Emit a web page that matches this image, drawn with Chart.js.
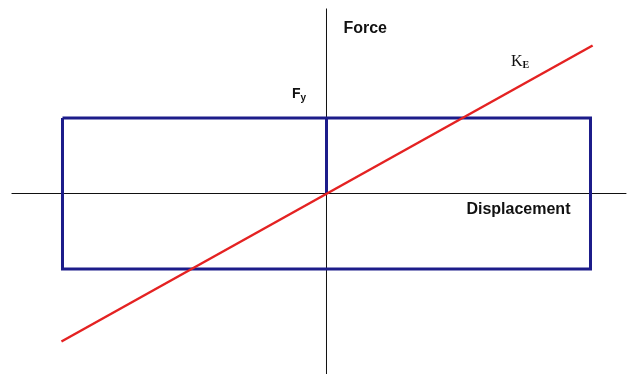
<!DOCTYPE html>
<html>
<head>
<meta charset="utf-8">
<script src="https://cdn.jsdelivr.net/npm/chart.js@4.4.1/dist/chart.umd.min.js"></script>
<style>
    html, body { margin: 0; padding: 0; background: #fff; }
    canvas { display: block; }
</style>
</head>
<body>
<canvas id="hysteresisChart" width="640" height="374"></canvas>
<script>
// Normalised units: displacement / yield displacement, force / yield force
const axisX = [-1.193, 1.136];
const axisY = [-2.40, 2.45];
const boxX = [-1, 1, 1, -1, -1];
const boxY = [1, 1, -1, -1, 1];
const yieldLineY = [0, 1];
const stiffnessX = [-1.004, 1.008];
const stiffnessY = [-1.96, 1.96];

// label text (main, subscript)
const labelTexts = [["Force", ""], ["F", "y"], ["K", "E"], ["Displacement", ""]];

function toPoints(xs, ys) {
    return xs.map((x, i) => ({ x: x, y: ys[i] }));
}

// Draw the free-standing labels next to the lines
const labelPlugin = {
    id: "labels",
    afterDatasetsDraw(chart) {
        const ctx = chart.ctx;
        const sx = chart.scales.x;
        const sy = chart.scales.y;
        const spots = [
            { x: 0.064, y: 2.126, font: "bold 16px 'Liberation Sans', Arial", sub: "", dy: 0 },
            { x: -0.131, y: 1.27, font: "bold 14px 'Liberation Sans', Arial", sub: "bold 10px 'Liberation Sans', Arial", dy: 3 },
            { x: 0.699, y: 1.69, font: "16px 'Liberation Serif', 'Times New Roman'", sub: "bold 10px 'Liberation Serif', 'Times New Roman'", dy: 2 },
            { x: 0.530, y: -0.272, font: "bold 16px 'Liberation Sans', Arial", sub: "", dy: 0 },
        ];
        ctx.save();
        ctx.fillStyle = "#111";
        ctx.textBaseline = "alphabetic";
        ctx.textAlign = "left";
        labelTexts.forEach((t, i) => {
            const s = spots[i];
            const px = sx.getPixelForValue(s.x);
            const py = sy.getPixelForValue(s.y);
            ctx.font = s.font;
            ctx.fillText(t[0], px, py);
            if (t[1]) {
                const w = ctx.measureText(t[0]).width;
                ctx.font = s.sub;
                ctx.fillText(t[1], px + w, py + s.dy);
            }
        });
        ctx.restore();
    },
};

// lower "order" is painted on top
const ctx = document.getElementById("hysteresisChart").getContext("2d");
new Chart(ctx, {
    type: "scatter",
    data: {
        datasets: [
            {
                data: [{ x: axisX[0], y: 0 }, { x: axisX[1], y: 0 }],
                borderColor: "#111",
                borderWidth: 1,
                showLine: true,
                order: 5,
            },
            {
                data: [{ x: 0, y: axisY[0] }, { x: 0, y: axisY[1] }],
                borderColor: "#111",
                borderWidth: 1,
                showLine: true,
                order: 4,
            },
            {
                data: toPoints(boxX, boxY),
                borderColor: "#1c1c8a",
                borderWidth: 3,
                showLine: true,
                order: 3,
            },
            {
                data: yieldLineY.map((y) => ({ x: 0, y: y })),
                borderColor: "#1c1c8a",
                borderWidth: 3,
                showLine: true,
                order: 2,
            },
            {
                data: toPoints(stiffnessX, stiffnessY),
                borderColor: "#e42222",
                borderWidth: 2.5,
                showLine: true,
                order: 1,
            },
        ],
    },
    options: {
        responsive: false,
        animation: false,
        devicePixelRatio: 1,
        layout: { padding: 0 },
        elements: {
            point: { radius: 0, hoverRadius: 0 },
            line: { tension: 0, borderJoinStyle: "miter" },
        },
        plugins: {
            legend: { display: false },
            tooltip: { enabled: false },
        },
        scales: {
            x: { type: "linear", min: -1.2367, max: 1.1875, display: false },
            y: { type: "linear", min: -2.3907, max: 2.5629, display: false },
        },
    },
    plugins: [labelPlugin],
});
</script>
</body>
</html>
